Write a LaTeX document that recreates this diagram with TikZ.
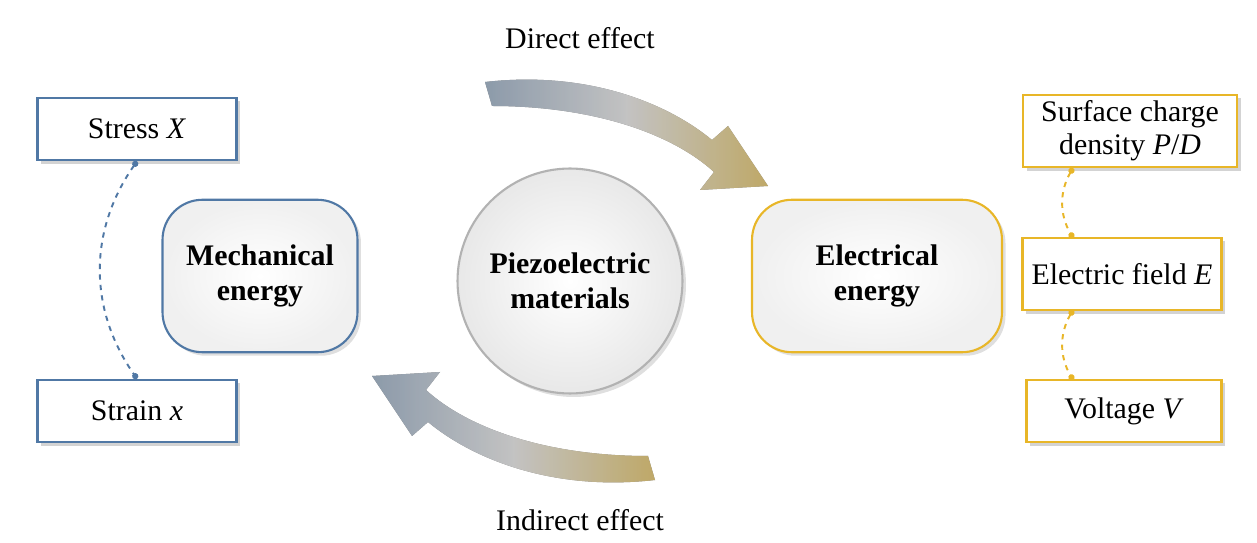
\documentclass[tikz,border=0pt]{standalone}
\usepackage{fontspec}
\setmainfont{Liberation Serif}
\usetikzlibrary{positioning,shadows,arrows.meta,calc}
\definecolor{mechblue}{RGB}{80,120,165}
\definecolor{elecorange}{RGB}{232,182,40}
\tikzset{
  qbox/.style={draw=#1, line width=1.2pt, fill=white, minimum width=3.98cm, minimum height=1.25cm,
    drop shadow={shadow xshift=2pt, shadow yshift=-2pt, opacity=0.35}, align=center,
    font=\fontsize{17}{19}\selectfont},
  ebox/.style={draw=#1, line width=1.2pt, rounded corners=0.8cm, inner color=white, outer color=gray!12,
    minimum width=3.9cm, minimum height=3.05cm, align=center, font=\fontsize{17}{20}\selectfont\bfseries,
    drop shadow={shadow xshift=2pt, shadow yshift=-2pt, opacity=0.25}},
  link/.style={dashed, line width=1.1pt, draw=#1, {Circle[length=3.5pt]}-{Circle[length=3.5pt]}},
  effect/.style={left color=mechblue!50!white, right color=elecorange!65!white, middle color=gray!8,
    opacity=0.7, draw=none},
  lbl/.style={font=\fontsize{17}{19}\selectfont}
}
\begin{document}
\begin{tikzpicture}[x=0.02cm,y=-0.02cm]
  \useasboundingbox (0,0) rectangle (1257,543);
  % effect arrows
  \fill[effect] (485,82) .. controls (590,70) and (670,105) .. (712,140) -- (728,126) -- (768,186)
    -- (700,190) -- (714,172) .. controls (670,132) and (590,106) .. (492,106) -- cycle;
  \fill[effect] (655,480) .. controls (550,492) and (470,457) .. (428,422) -- (412,436) -- (372,376)
    -- (440,372) -- (426,390) .. controls (470,430) and (550,456) .. (648,456) -- cycle;
  \node[lbl] (direct) at (580,38) {Direct effect};
  \node[lbl] (indirect) at (580,520) {Indirect effect};
  % centre
  \node[circle, draw=gray!60, line width=1.2pt, inner color=white, outer color=gray!18,
    minimum size=4.5cm, align=center, font=\fontsize{17}{20}\selectfont\bfseries,
    drop shadow={shadow xshift=2pt, shadow yshift=-2pt, opacity=0.25}] (piezo) at (570,281) {Piezoelectric\\materials};
  \node[ebox=mechblue] (mech) at (260,276) {Mechanical\\energy};
  \node[ebox=elecorange, minimum width=5cm] (elec) at (877,276) {Electrical\\energy};
  % quantities
  \node[qbox=mechblue] (stress) at (137,129) {Stress \textit{X}};
  \node[qbox=mechblue] (strain) at (137,411) {Strain \textit{x}};
  \node[qbox=elecorange, minimum width=4.28cm, minimum height=1.45cm, inner sep=1pt] (charge) at (1130,131)
    {Surface charge\\density \textit{P}/\textit{D}};
  \node[qbox=elecorange, minimum height=1.45cm] (field) at (1122,274) {Electric field \textit{E}};
  \node[qbox=elecorange, minimum width=3.9cm] (volt) at (1124,411) {Voltage \textit{V}};
  % links
  \draw[link=mechblue] (stress.south) to[out=-125, in=125] (strain.north);
  \coordinate (c1) at (1073,168);
  \coordinate (c2) at (1073,238);
  \coordinate (c3) at (1073,310);
  \coordinate (c4) at (1073,380);
  \draw[link=elecorange] (c1) to[out=-120, in=120] (c2);
  \draw[link=elecorange] (c3) to[out=-120, in=120] (c4);
\end{tikzpicture}
\end{document}
